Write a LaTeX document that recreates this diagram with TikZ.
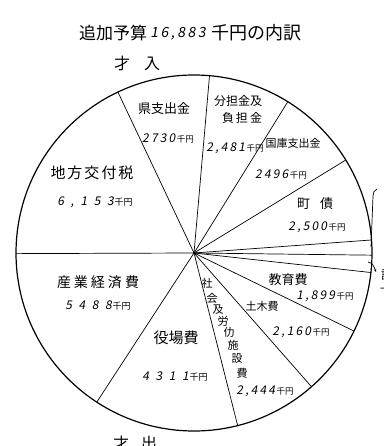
\documentclass[tikz,border=0pt]{standalone}
\usepackage{fontspec}
\usetikzlibrary{arrows.meta}
\setmainfont{Noto Sans CJK JP}
\newfontfamily\jp{Noto Sans CJK JP}
\newfontfamily\handnum[FakeSlant=0.18,LetterSpace=18]{Noto Sans CJK JP}
\newfontfamily\handwide[FakeSlant=0.18,LetterSpace=55]{Noto Sans CJK JP}
\newcommand{\fsz}[1]{\fontsize{#1}{#1}\selectfont}
\newcommand{\amount}[1]{{\handnum\fsz{12}#1}\hspace{1.5pt}{\fsz{8.5}千円}}
\newcommand{\wideamount}[1]{{\handwide\fsz{12}#1}\hspace{1pt}{\fsz{9}千円}}
\begin{document}
\begin{tikzpicture}[x=1pt,y=-1pt,
  lbl/.style={inner sep=0pt, font=\jp\fsz{13}},
  amt/.style={inner sep=0pt},
  spoke/.style={line width=0.7pt},
  rim/.style={line width=1.2pt}]
\useasboundingbox (0,0) rectangle (383,446);
\clip (0,0) rectangle (383,446);
\fill[white] (0,0) rectangle (383,446);
% centre
\coordinate (C) at (194,253);
\draw[rim] (C) circle (178pt);
% spokes
\foreach \i/\a in {1/85,2/115.3,3/180.2,4/236.9,5/284.2,6/311.3,7/334,8/353.7,9/359.3,10/4.2,11/31.5,12/58.2}{
  \path (C) ++(\a:178pt) coordinate (s\i);
  \draw[spoke] (C) -- (s\i);
}
% title
\node[lbl, font=\jp\fsz{17}] (t1) at (113,33) {追加予算};
\node[amt, font=\handnum\fsz{14}] (t2) at (178,34) {16,883};
\node[lbl, font=\jp\fsz{18}] (t3) at (256,33) {千円の内訳};
\node[lbl, font=\jp\fsz{16}] (inc) at (137,63) {才\hspace{14pt}入};
\node[lbl, font=\jp\fsz{16}] (exp) at (135,443) {才\hspace{12pt}出};
% income labels
\node[lbl] (k1) at (164,109) {県支出金};
\node[amt] (k2) at (168,138) {\amount{2730}};
\node[lbl, font=\jp\fsz{15}] (c1) at (92,173) {地\hspace{2pt}方\hspace{2pt}交\hspace{2pt}付\hspace{2pt}税};
\node[amt] (c2) at (95,202) {\wideamount{6,153}};
\node[lbl, font=\jp\fsz{12}] (b1) at (238,101) {分担金及};
\node[lbl, font=\jp\fsz{12}] (b2) at (242,118) {負\hspace{2pt}担\hspace{2pt}金};
\node[amt] (b3) at (235,148) {\amount{2,481}};
\node[lbl, font=\jp\fsz{11}] (g1) at (293,143) {国庫支出金};
\node[amt] (g2) at (281,174) {\amount{2496}};
\node[lbl] (m1) at (315,204) {町\hspace{10pt}債};
\node[amt] (m2) at (317,227) {\amount{2,500}};
% expenditure labels
\node[lbl, font=\jp\fsz{14}] (e1) at (98,282) {産\hspace{3pt}業\hspace{3pt}経\hspace{3pt}済\hspace{3pt}費};
\node[amt] (e2) at (98,306) {\wideamount{5488}};
\node[lbl, font=\jp\fsz{15}] (y1) at (176,338) {役場費};
\node[amt] (y2) at (175,377) {\wideamount{4311}};
\node[lbl] (d1) at (288,280) {教育費};
\node[amt] (d2) at (325,296) {\amount{1,899}};
\node[lbl, font=\jp\fsz{11}] (r1) at (262,306) {土木費};
\node[amt] (r2) at (301,332) {\amount{2,160}};
\foreach \n/\ch/\x/\y in {1/社/207/283,2/会/212/298,3/及/218/310,4/労/223/321,5/仂/229/332,6/施/233/345,7/設/237/358,8/費/242/373}{
  \node[lbl, font=\jp\fsz{11}] (sw\n) at (\x,\y) {\ch};
}
\node[amt] (sw9) at (265,391) {\amount{2,444}};
% right-edge bracket and cut-off notes
\coordinate (br1) at (371,247);
\coordinate (br2) at (373,196);
\coordinate (br3) at (377,189);
\draw[line width=0.7pt] (br1) -- (br2) to[out=90,in=200] (br3);
\coordinate (ar1) at (368,262);
\coordinate (ar2) at (376,272);
\draw[line width=0.7pt,-{Stealth[length=3pt]}] (ar1) to[out=-10,in=110] (ar2);
\node[lbl, font=\jp\fsz{12}] (n1) at (387,190) {ト};
\node[lbl, font=\jp\fsz{12}] (n2) at (387,275) {諸};
\node[lbl, font=\jp\fsz{10}] (n3) at (385,290) {一};
\end{tikzpicture}
\end{document}
